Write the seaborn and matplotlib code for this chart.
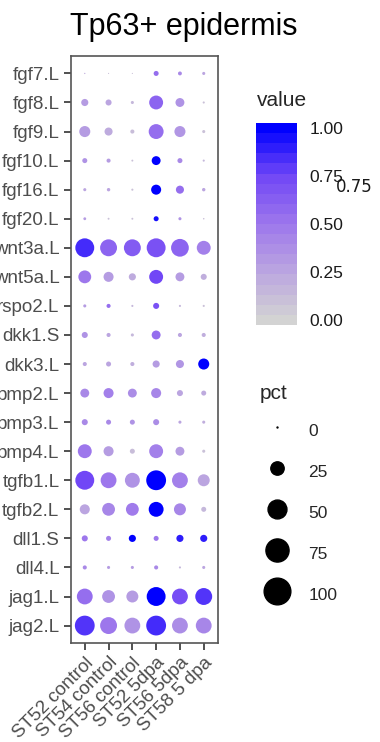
import numpy as np
import pandas as pd
import matplotlib
matplotlib.use("Agg")
import matplotlib.pyplot as plt
from matplotlib.colors import LinearSegmentedColormap, Normalize
from matplotlib.cm import ScalarMappable
from matplotlib.lines import Line2D
import seaborn as sns

genes = ["fgf7.L", "fgf8.L", "fgf9.L", "fgf10.L", "fgf16.L", "fgf20.L",
         "wnt3a.L", "wnt5a.L", "rspo2.L", "dkk1.S", "dkk3.L", "bmp2.L",
         "bmp3.L", "bmp4.L", "tgfb1.L", "tgfb2.L", "dll1.S", "dll4.L",
         "jag1.L", "jag2.L"]
conditions = ["ST52 control", "ST54 control", "ST56 control",
              "ST52 5dpa", "ST56 5dpa", "ST58 5 dpa"]

# percent of cells expressing, one list per condition (gene order as above)
pct_st52_ctrl = [0.1, 7, 17, 3.4, 1.2, 1, 50, 23, 1.2, 5, 2.2, 11, 5, 27, 50, 14, 5, 2.2, 35, 55]
pct_st54_ctrl = [0.05, 5, 9, 2.2, 1.5, 0.4, 40, 14, 2.2, 2.2, 3.4, 14, 3.4, 14, 35, 23, 3.4, 1.2, 23, 40]
pct_st56_ctrl = [0.05, 1.2, 2.2, 0.4, 0.5, 0.4, 40, 7, 0.5, 1.2, 2.2, 11, 3.4, 3.4, 31, 23, 7, 1.2, 20, 35]
pct_st52_5dpa = [3.4, 27, 31, 11, 14, 3.4, 50, 27, 5, 11, 7, 14, 5, 27, 55, 31, 3.4, 2.2, 50, 55]
pct_st56_5dpa = [2, 11, 17, 3.4, 9, 1.2, 44, 11, 0.5, 2.2, 9, 5, 1.2, 11, 35, 20, 7, 0.5, 35, 35]
pct_st58_5dpa = [1.2, 0.5, 1.2, 0.5, 1.5, 0.2, 27, 5, 0.5, 2.2, 17, 3.4, 1.2, 1.2, 20, 3.4, 7, 1.2, 40, 35]

# scaled average expression, one list per condition
val_st52_ctrl = [0.2, 0.3, 0.3, 0.35, 0.25, 0.3, 0.85, 0.5, 0.3, 0.35, 0.25, 0.4, 0.4, 0.5, 0.75, 0.25, 0.5, 0.4, 0.55, 0.82]
val_st54_ctrl = [0.1, 0.25, 0.22, 0.3, 0.25, 0.1, 0.6, 0.3, 0.55, 0.25, 0.25, 0.45, 0.4, 0.3, 0.5, 0.42, 0.45, 0.3, 0.35, 0.5]
val_st56_ctrl = [0.1, 0.15, 0.12, 0.1, 0.1, 0.1, 0.65, 0.22, 0.15, 0.15, 0.2, 0.38, 0.35, 0.12, 0.35, 0.48, 1.0, 0.3, 0.3, 0.35]
val_st52_5dpa = [0.55, 0.6, 0.55, 1.0, 1.0, 0.95, 0.7, 0.75, 0.7, 0.55, 0.3, 0.42, 0.38, 0.45, 1.0, 1.0, 0.5, 0.4, 1.0, 0.85]
val_st56_5dpa = [0.4, 0.35, 0.33, 0.4, 0.55, 0.35, 0.6, 0.3, 0.15, 0.25, 0.33, 0.25, 0.25, 0.3, 0.45, 0.42, 0.9, 0.15, 0.72, 0.38]
val_st58_5dpa = [0.25, 0.1, 0.1, 0.15, 0.25, 0.1, 0.45, 0.2, 0.1, 0.2, 1.0, 0.22, 0.2, 0.1, 0.25, 0.15, 0.9, 0.25, 0.82, 0.42]

pct_lists = [pct_st52_ctrl, pct_st54_ctrl, pct_st56_ctrl, pct_st52_5dpa, pct_st56_5dpa, pct_st58_5dpa]
val_lists = [val_st52_ctrl, val_st54_ctrl, val_st56_ctrl, val_st52_5dpa, val_st56_5dpa, val_st58_5dpa]

rows = []
for cond, pcts, vals in zip(conditions, pct_lists, val_lists):
    for g, p, v in zip(genes, pcts, vals):
        rows.append({"cond": cond, "gene": g, "pct": p, "value": v})
df = pd.DataFrame(rows)
df["cond"] = pd.Categorical(df["cond"], categories=conditions, ordered=True)
df["gene"] = pd.Categorical(df["gene"], categories=genes, ordered=True)

sns.set_theme(style="white")
plt.rcParams["font.family"] = ["Liberation Sans", "DejaVu Sans"]

# lightgrey -> blue, interpolated like ggplot (Lab space)
cmap = LinearSegmentedColormap.from_list(
    "grey_blue", ["#D3D3D3", "#BBA5E0", "#9D77EC", "#7248F6", "#0000FF"])
s_max = 370

fig = plt.figure(figsize=(3.8, 7.42), dpi=100)
ax = fig.add_axes([70.5 / 380, 1 - 643 / 742, 147.5 / 380, 587 / 742])

sns.scatterplot(data=df, x=df["cond"].cat.codes, y=df["gene"].cat.codes,
                hue="value", size="pct", palette=cmap, hue_norm=(0, 1),
                sizes=(0.5, s_max), size_norm=(0, 100), linewidth=0,
                legend=False, ax=ax)

ax.set_xlim(-0.6, len(conditions) - 0.4)
ax.set_ylim(len(genes) - 0.4, -0.6)
ax.set_xticks(range(len(conditions)))
ax.set_xticklabels(conditions, rotation=45, ha="right", va="top",
                   rotation_mode="anchor")
ax.set_yticks(range(len(genes)))
ax.set_yticklabels(genes)
ax.set_xlabel("")
ax.set_ylabel("")
ax.tick_params(axis="both", which="both", length=5, width=1.2,
               color="#333333", labelcolor="#4D4D4D", labelsize=13.5,
               left=True, bottom=True, pad=3)
for sp in ax.spines.values():
    sp.set_visible(True)
    sp.set_color("#555555")
    sp.set_linewidth(1.2)

fig.text(70 / 380, 1 - 27 / 742, "Tp63+ epidermis", fontsize=22,
         ha="left", va="center", color="black")

# colour bar
cax = fig.add_axes([256 / 380, 1 - 325 / 742, 41 / 380, 202 / 742])
nbin = 20
half = 0.5 / (nbin - 1)
sm = ScalarMappable(norm=Normalize(0, 1), cmap=cmap)
cbar = fig.colorbar(sm, cax=cax, boundaries=np.linspace(-half, 1 + half, nbin + 1),
                    values=np.linspace(0, 1, nbin))
cbar.outline.set_visible(False)
cbar.set_ticks([0, 0.25, 0.5, 0.75, 1.0])
cbar.set_ticklabels(["0.00", "0.25", "0.50", "0.75", "1.00"])
cax.tick_params(direction="in", color="white", length=6, width=0.8,
                left=True, right=True, labelsize=12.5, labelcolor="#1a1a1a", pad=9)
fig.text(257 / 380, 1 - 101 / 742, "value", fontsize=15, ha="left", va="center")
fig.text(336 / 380, 1 - 187 / 742, "0.75", fontsize=12, ha="left", va="center",
         family="DejaVu Sans", color="#1a1a1a")

# size legend
pct_breaks = [0, 25, 50, 75, 100]
handles = [Line2D([], [], linestyle="", marker="o", color="black",
                  markersize=np.sqrt(max(b / 100 * s_max, 0.5)))
           for b in pct_breaks]
leg = fig.legend(handles, [str(b) for b in pct_breaks], title="pct",
                 loc="upper left", bbox_to_anchor=(253 / 380, 1 - 377 / 742),
                 frameon=False, fontsize=12.5, title_fontsize=15,
                 handleheight=2.0, labelspacing=0.82, handlelength=2.0,
                 handletextpad=0.8, borderaxespad=0)
leg._legend_box.align = "left"

fig.savefig("out.png", dpi=100)
